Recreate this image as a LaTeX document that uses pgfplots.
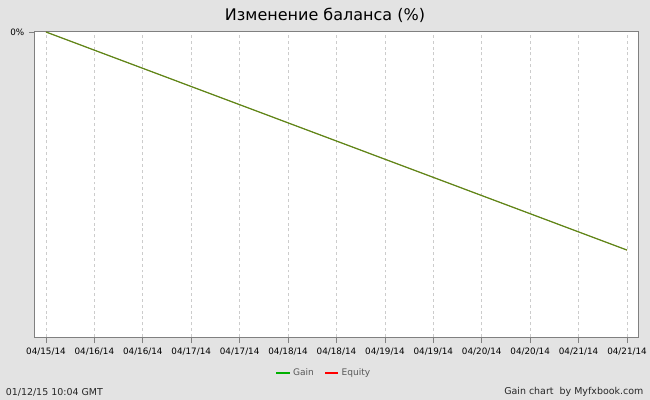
\documentclass[border=0pt]{standalone}
\usepackage{pgfplots}
\pgfplotsset{compat=1.18}
\usepackage{fontspec}
\setmainfont{DejaVu Sans}
\definecolor{bg}{HTML}{E3E3E3}
\definecolor{gridc}{HTML}{CCCCCC}
\definecolor{axc}{HTML}{808080}
\definecolor{olive}{HTML}{5A8C1A}
\definecolor{gainc}{HTML}{00B000}
\definecolor{eqc}{HTML}{FF0000}
\begin{document}
\begin{tikzpicture}
\fill[bg] (0,0) rectangle (487.5pt,300pt);
\path[use as bounding box] (0,0) rectangle (487.5pt,300pt);
\node[font=\fontsize{12pt}{14pt}\selectfont] at (243.75pt,288.5pt) {Изменение баланса (\%)};
\node[anchor=west,font=\fontsize{7.1pt}{8pt}\selectfont,text=black!85] at (0.8pt,6pt) {01/12/15 10:04 GMT};
\node[anchor=east,font=\fontsize{7.1pt}{8pt}\selectfont,text=black!85] at (486pt,6pt) {Gain chart\ \ by Myfxbook.com};
\begin{axis}[
  at={(26.25pt,47.25pt)}, anchor=south west,
  scale only axis, width=452.25pt, height=228.75pt,
  axis background/.style={fill=white},
  axis line style={axc, line width=0.75pt},
  xmin=-0.227, xmax=12.227, ymin=-1, ymax=0,
  xtick={0,...,12},
  xticklabels={04/15/14,04/16/14,04/16/14,04/17/14,04/17/14,04/18/14,04/18/14,04/19/14,04/19/14,04/20/14,04/20/14,04/21/14,04/21/14},
  ytick={0}, yticklabels={0\%},
  tick align=outside, major tick length=4.5pt,
  tick style={axc, line width=0.6pt},
  xtick pos=bottom, ytick pos=left,
  ticklabel style={font=\fontsize{6.6pt}{8pt}\selectfont, text=black},
  /pgf/number format/assume math mode=true,
  xmajorgrids, ymajorgrids=false,
  grid style={gridc, dash pattern=on 2.2pt off 2.2pt, line width=0.5pt},
  legend style={at={(0.48,-0.118)}, anchor=center, draw=none, fill=none,
    font=\fontsize{6.8pt}{8pt}\selectfont, text=black!65,
    /tikz/every even column/.append style={column sep=6pt}},
  legend columns=2,
  legend image code/.code={\draw[#1] (0pt,0pt) -- (10pt,0pt);},
  clip=false,
]
\addplot[eqc, line width=0.4pt, forget plot] coordinates {(0,0) (12,-0.715)};
\addplot[olive, line width=0.9pt, forget plot] coordinates {(0,0) (12,-0.715)};
\addlegendimage{gainc, line width=0.8pt}
\addlegendentry{Gain}
\addlegendimage{eqc, line width=0.8pt}
\addlegendentry{Equity}
\end{axis}
\end{tikzpicture}
\end{document}
